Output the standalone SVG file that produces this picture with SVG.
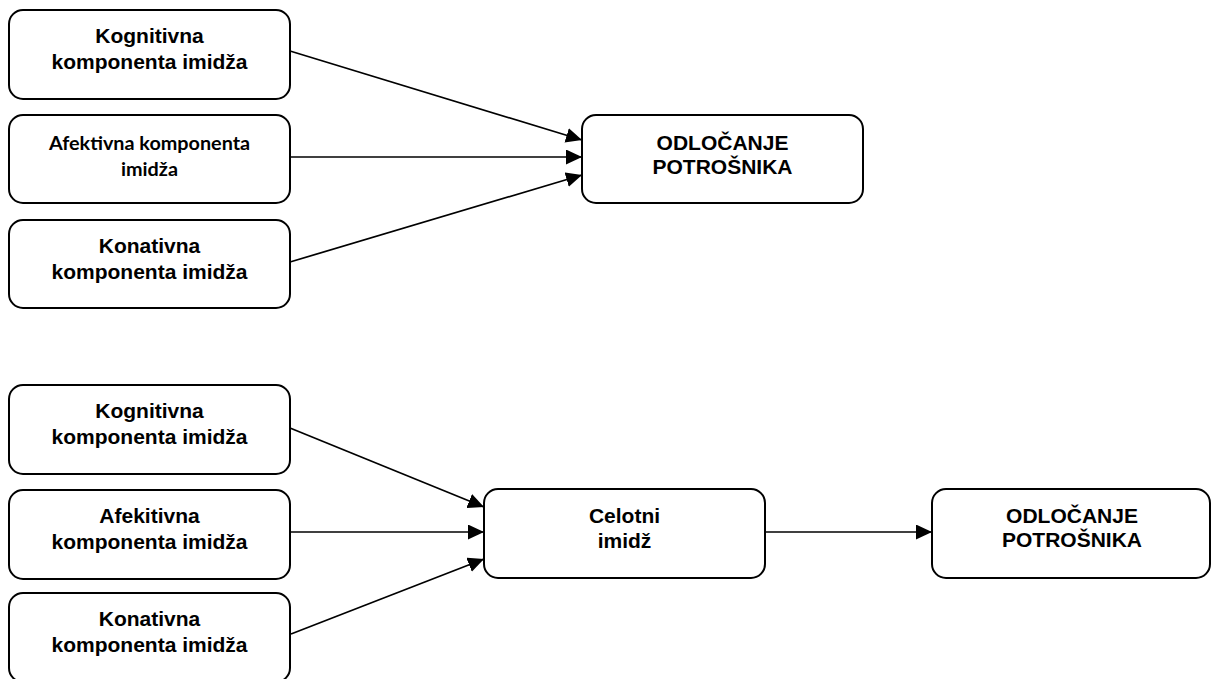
<svg xmlns="http://www.w3.org/2000/svg" width="1212" height="679" viewBox="0 0 1212 679">
<style>
.box{fill:#fff;stroke:#000;stroke-width:2}
.t{font-family:"Liberation Sans",Arial,sans-serif;font-weight:bold;font-size:21px;text-anchor:middle;fill:#000}
.c{font-family:Lato,"Open Sans",sans-serif;font-weight:bold;font-size:19.8px;text-anchor:middle;fill:#000}
.e{fill:none;stroke:#000;stroke-width:1.7}
</style>
<defs>
<marker id="ah" markerUnits="userSpaceOnUse" markerWidth="17" markerHeight="15" refX="16" refY="7.5" orient="auto">
<path d="M0,0 L16,7.5 L0,15 z" fill="#000"/>
</marker>
</defs>
<g id="connectors">
<line class="e" x1="290" y1="51" x2="582" y2="140" marker-end="url(#ah)"/>
<line class="e" x1="290" y1="157" x2="582" y2="157" marker-end="url(#ah)"/>
<line class="e" x1="290" y1="262" x2="582" y2="175" marker-end="url(#ah)"/>
<line class="e" x1="290" y1="428" x2="484" y2="507" marker-end="url(#ah)"/>
<line class="e" x1="290" y1="532" x2="484" y2="532" marker-end="url(#ah)"/>
<line class="e" x1="291" y1="634" x2="484" y2="559" marker-end="url(#ah)"/>
<line class="e" x1="765" y1="532" x2="932" y2="532" marker-end="url(#ah)"/>
</g>
<g id="kog1"><rect class="box" x="9" y="10" width="281" height="89" rx="14"/><text class="t" x="149.5" y="43">Kognitivna</text><text class="t" x="149.5" y="69">komponenta imidža</text></g>
<g id="afe1"><rect class="box" x="9" y="115" width="281" height="88" rx="14"/><text class="c" x="149.5" y="150">Afektivna komponenta</text><text class="c" x="149.5" y="176">imidža</text></g>
<g id="kon1"><rect class="box" x="9" y="220" width="281" height="88" rx="14"/><text class="t" x="149.5" y="253">Konativna</text><text class="t" x="149.5" y="279">komponenta imidža</text></g>
<g id="odl1"><rect class="box" x="582" y="115" width="281" height="88" rx="14"/><text class="t" x="722.5" y="150">ODLOČANJE</text><text class="t" x="722.5" y="174">POTROŠNIKA</text></g>
<g id="kog2"><rect class="box" x="9" y="385" width="281" height="89" rx="14"/><text class="t" x="149.5" y="418">Kognitivna</text><text class="t" x="149.5" y="444">komponenta imidža</text></g>
<g id="afe2"><rect class="box" x="9" y="490" width="281" height="89" rx="14"/><text class="t" x="149.5" y="523">Afekitivna</text><text class="t" x="149.5" y="549">komponenta imidža</text></g>
<g id="kon2"><rect class="box" x="9" y="593" width="281" height="89" rx="14"/><text class="t" x="149.5" y="626">Konativna</text><text class="t" x="149.5" y="652">komponenta imidža</text></g>
<g id="cel"><rect class="box" x="484" y="489" width="281" height="89" rx="14"/><text class="t" x="624.5" y="523">Celotni</text><text class="t" x="624.5" y="548">imidž</text></g>
<g id="odl2"><rect class="box" x="932" y="489" width="278" height="89" rx="14"/><text class="t" x="1072" y="523">ODLOČANJE</text><text class="t" x="1072" y="547">POTROŠNIKA</text></g>
</svg>
